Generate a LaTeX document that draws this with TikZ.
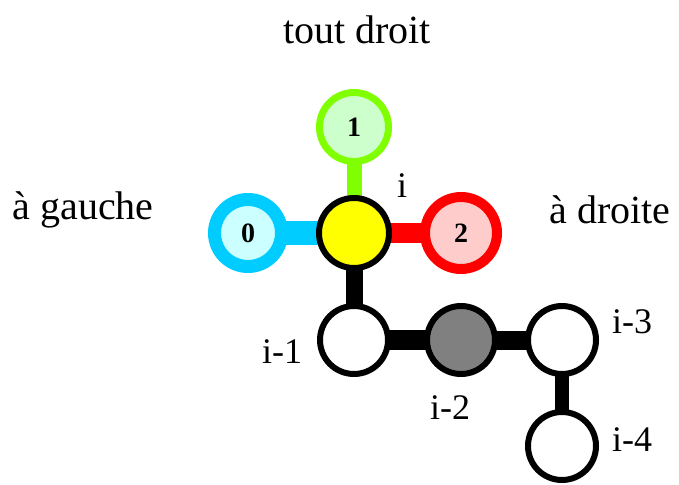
\documentclass[tikz,border=0pt]{standalone}
\usepackage{fontspec}
\setmainfont{Liberation Serif}
\newfontfamily\labelfont{Liberation Serif}
\usetikzlibrary{backgrounds}
\definecolor{ink}{HTML}{000000}
\definecolor{leftring}{HTML}{00CCFF}
\definecolor{leftfill}{HTML}{CCFFFF}
\definecolor{straightring}{HTML}{80FF00}
\definecolor{straightfill}{HTML}{CCFFCC}
\definecolor{rightring}{HTML}{FF0000}
\definecolor{rightfill}{HTML}{FFCCCC}
\definecolor{headfill}{HTML}{FFFF00}
\definecolor{visited}{HTML}{808080}
\tikzset{
  site/.style={
    circle,
    inner sep=0pt,
    draw=ink,
    fill=white,
    line width=6pt,
    minimum size=68pt,
    font=\labelfont\fontsize{28}{30}\selectfont\bfseries
  },
  site_head/.style={site, fill=headfill, minimum size=70pt},
  site_left/.style={site, draw=leftring, fill=leftfill, line width=13pt, minimum size=67pt},
  site_straight/.style={site, draw=straightring, fill=straightfill, line width=7pt, minimum size=69pt},
  site_right/.style={site, draw=rightring, fill=rightfill, line width=10pt, minimum size=72pt},
  site_visited/.style={site, fill=visited},
  bond/.style={draw=ink, line cap=butt},
  direction/.style={
    font=\labelfont\fontsize{40}{44}\selectfont,
    text=ink,
    inner sep=0pt
  },
  index/.style={
    font=\labelfont\fontsize{36}{40}\selectfont,
    text=ink,
    inner sep=0pt
  }
}

\begin{document}
\begin{tikzpicture}[x=1pt, y=-1pt]
  \useasboundingbox (0,0) rectangle (679,484);

  %====================================================================
  % Chain head and the three possible next moves
  %====================================================================
  \node[site_head]     (head)     at (354,233) {};
  \node[site_straight] (straight) at (354,127) {1};
  \node[site_left]     (left)     at (248,233) {0};
  \node[site_right]    (right)    at (461,233) {2};

  %====================================================================
  % Previous sites of the chain
  %====================================================================
  \node[site]         (prev1) at (354,340) {};
  \node[site_visited] (prev2) at (461,340) {};
  \node[site]         (prev3) at (562,340) {};
  \node[site]         (prev4) at (562,446) {};

  %====================================================================
  % Bonds, centre to centre and kept behind the circles
  %====================================================================
  \begin{scope}[on background layer]
    \draw[bond, draw=straightring, line width=15pt] (head.center) -- (straight.center);
    \draw[bond, draw=leftring,     line width=24pt] (head.center) -- (left.center);
    \draw[bond, draw=rightring,    line width=20pt] (head.center) -- (right.center);
    \draw[bond, line width=17pt] (head.center)  -- (prev1.center);
    \draw[bond, line width=20pt] (prev1.center) -- (prev2.center);
    \draw[bond, line width=19pt] (prev2.center) -- (prev3.center);
    \draw[bond, line width=14pt] (prev3.center) -- (prev4.center);
  \end{scope}

  %====================================================================
  % Labels
  %====================================================================
  \node[direction] (lbl_straight) at (357,30)  {tout droit};
  \node[direction] (lbl_left)     at (83,210)  {à gauche};
  \node[direction] (lbl_right)    at (610,210) {à droite};

  \node[index] (lbl_head)  at (402,186) {i};
  \node[index] (lbl_prev1) at (282,352) {i-1};
  \node[index] (lbl_prev2) at (450,408) {i-2};
  \node[index] (lbl_prev3) at (632,322) {i-3};
  \node[index] (lbl_prev4) at (632,440) {i-4};

\end{tikzpicture}
\end{document}
